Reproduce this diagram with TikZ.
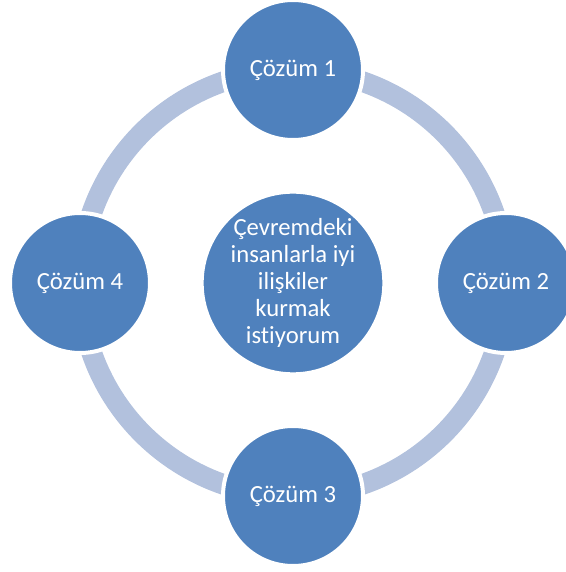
\documentclass[tikz,border=0pt]{standalone}
\usepackage{fontspec}
\setmainfont{Carlito}[RawFeature=-liga]
\usepackage{tikz}
\usetikzlibrary{positioning}
\definecolor{cycleblue}{RGB}{79,129,189}
\definecolor{ringblue}{RGB}{178,193,221}

\begin{document}
\begin{tikzpicture}[x=0.75pt,y=0.75pt,node distance=159.75pt,on grid,
      main node/.style={circle,fill=cycleblue,draw=white,line width=3pt,
        text=white,minimum size=105pt,inner sep=0pt,
        font=\fontsize{18.5}{20.25}\selectfont},
      hub node/.style={main node,minimum size=137pt,align=center},
      ring/.style={draw=ringblue,line width=15.5pt}]
      \useasboundingbox (0,0) rectangle (565,572);
      \node[hub node] (hub) at (293,289) {Çevremdeki\\insanlarla iyi\\ilişkiler\\kurmak\\istiyorum};

      \draw[ring] (hub.center) circle[radius=213];

      \node[main node] (s1) [above=of hub] {Çözüm 1};
      \node[main node] (s2) [right=of hub] {Çözüm 2};
      \node[main node] (s3) [below=of hub] {Çözüm 3};
      \node[main node] (s4) [left=of hub] {Çözüm 4};
    \end{tikzpicture}
\end{document}
